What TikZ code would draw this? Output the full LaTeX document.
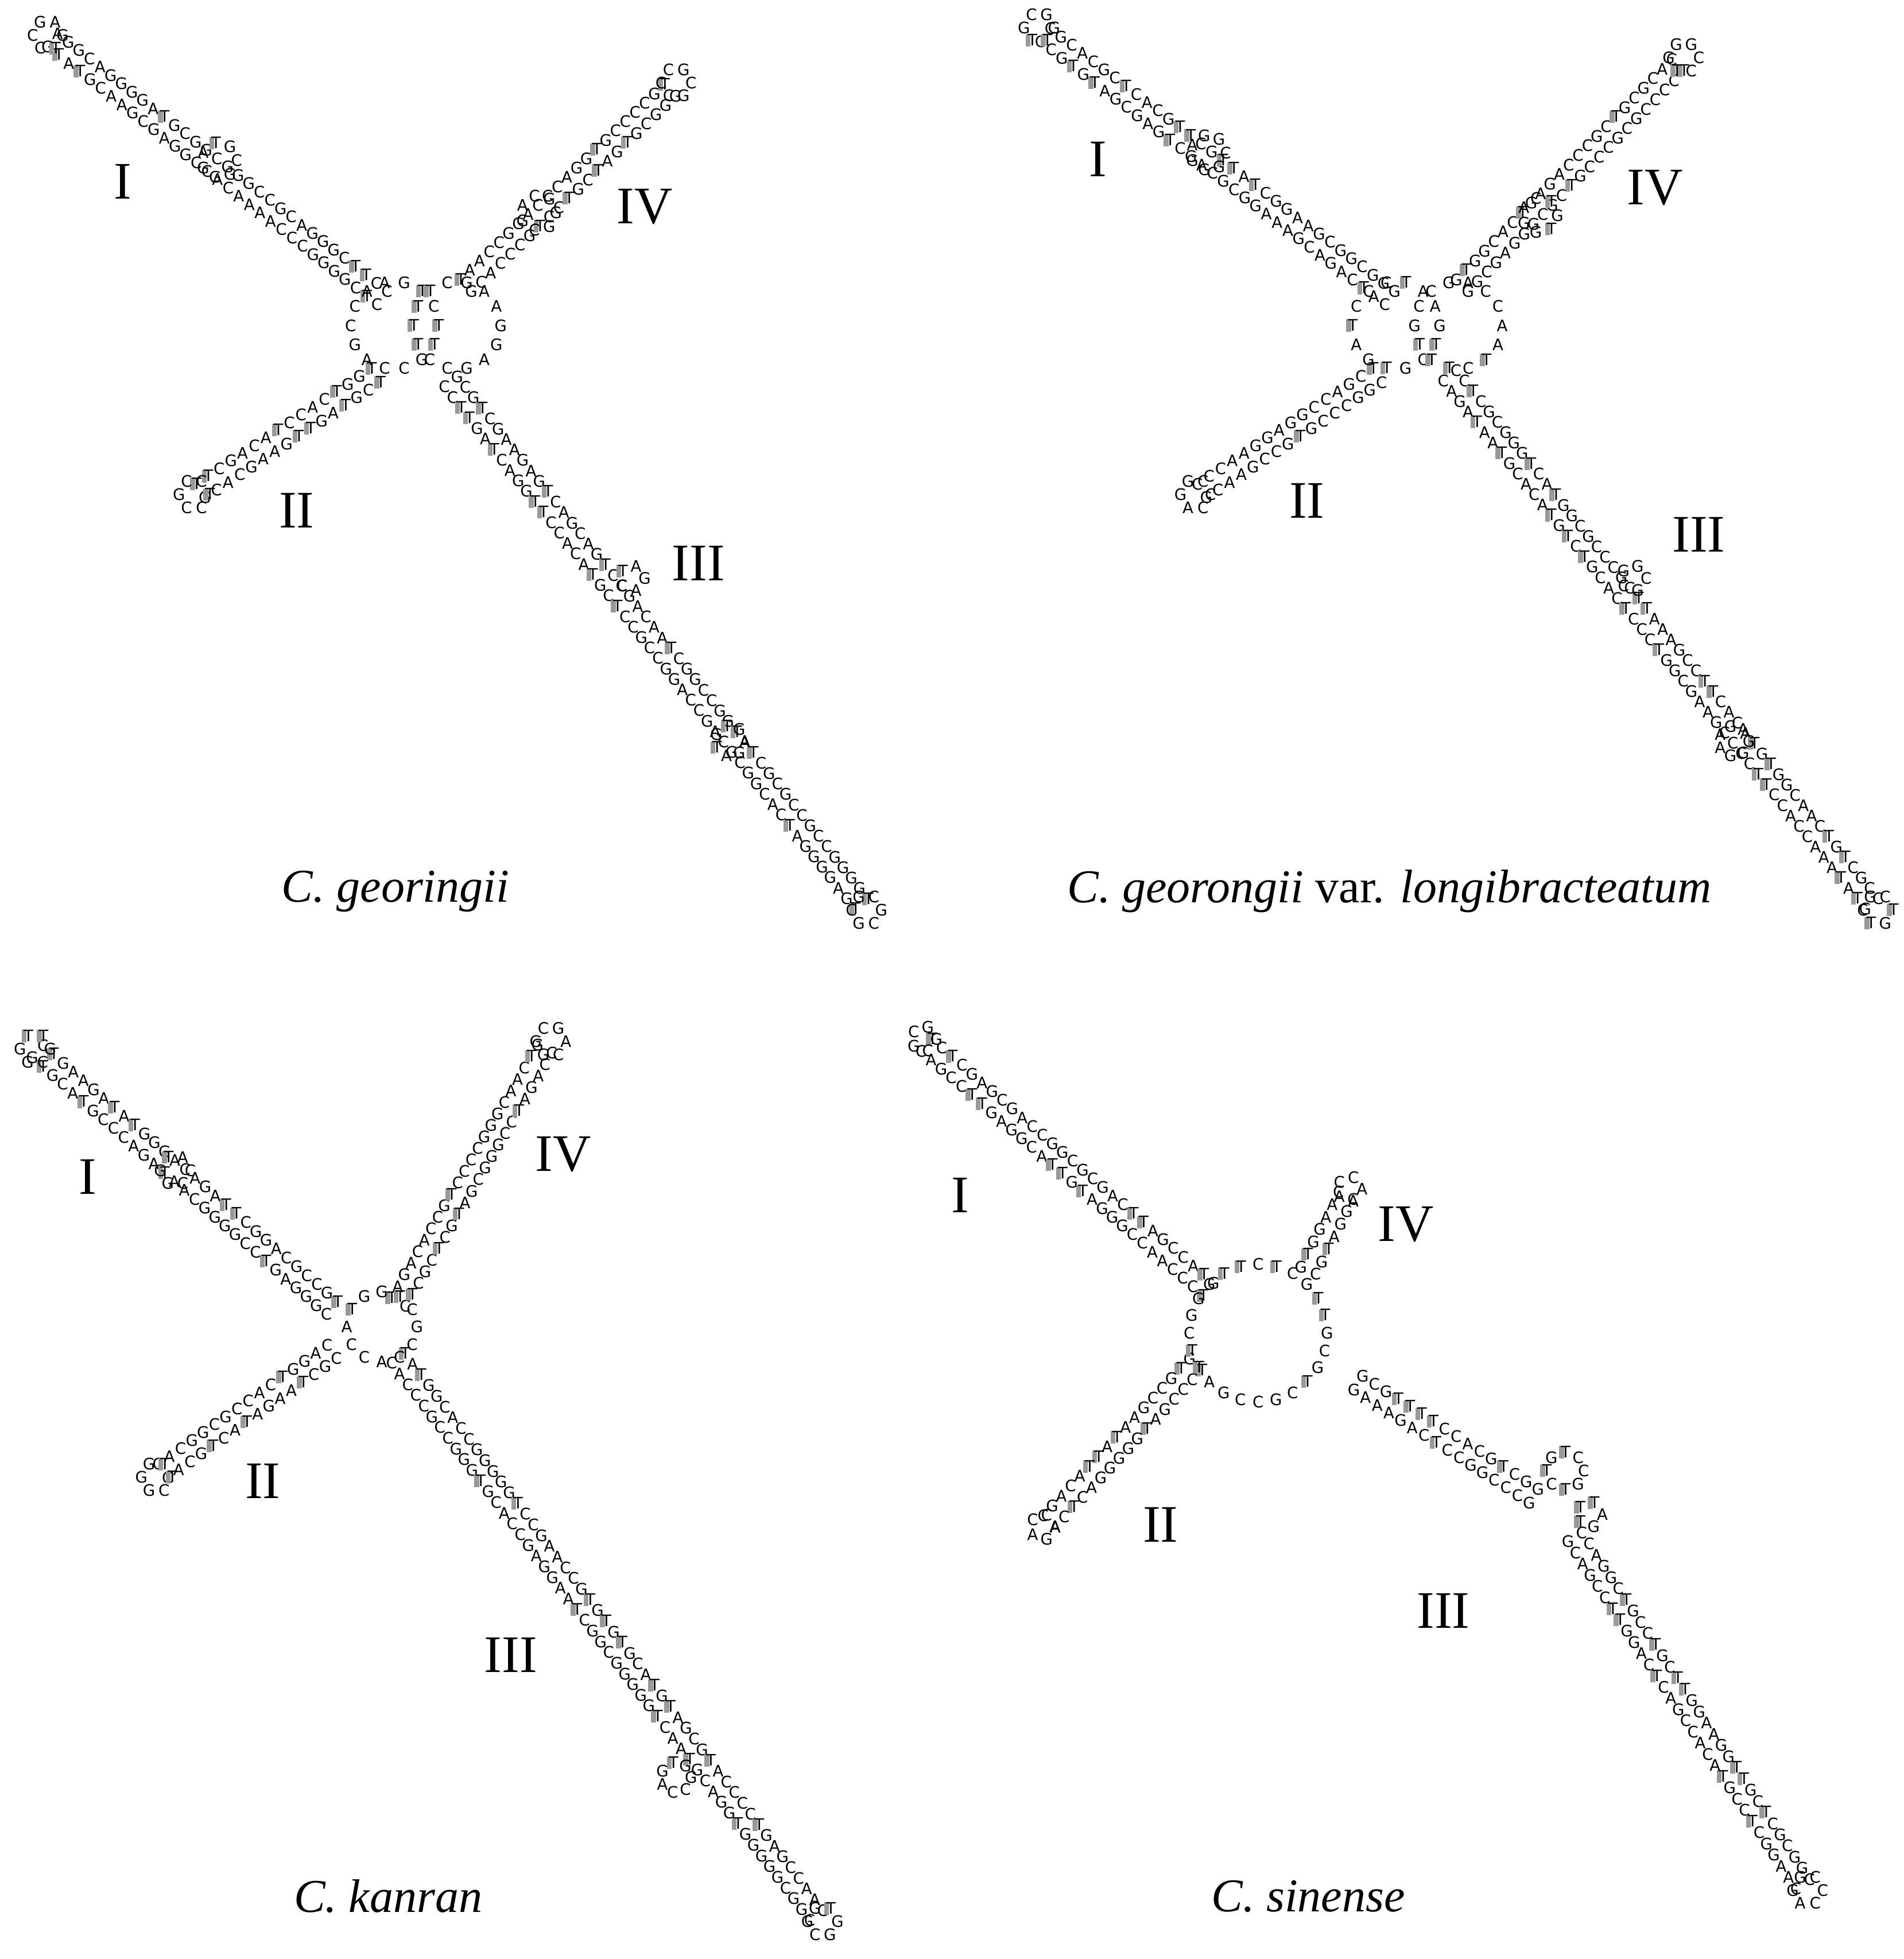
\documentclass[tikz,border=0pt]{standalone}
\usepackage{fontspec}
\setmainfont{Liberation Serif}
\setsansfont{DejaVu Sans}
\pgfmathsetseed{7}
\pgfmathdeclarerandomlist{nt}{{A}{C}{G}{G}{C}{\tg}}
\newcommand\tg{{\color{black!40}\rule[-0.2pt]{1.1pt}{2.8pt}}\kern-0.7pt T}
\tikzset{
 nt/.style={inner sep=0pt,font=\fontsize{3.6}{4}\sffamily},
 lab/.style={font=\fontsize{12}{14}\selectfont},
 ttl/.style={font=\fontsize{10.7}{12}\selectfont}
}
\newcommand\stemx[4]{%
 \pgfmathsetmacro\ddx{#3-#1}\pgfmathsetmacro\ddy{#4-#2}
 \pgfmathsetmacro\LL{veclen(\ddx,\ddy)}
 \pgfmathtruncatemacro\nn{\LL/10.5}
 \pgfmathsetmacro\px{-\ddy/\LL*6.5}\pgfmathsetmacro\py{\ddx/\LL*6.5}
 \foreach \i in {0,...,\nn}{
  \pgfmathsetmacro\tt{\i/\nn}
  \pgfmathrandomitem\aa{nt}\pgfmathrandomitem\bb{nt}
  \node[nt] at ({#1+\tt*\ddx+\px},{#2+\tt*\ddy+\py}) {\aa};
  \node[nt] at ({#1+\tt*\ddx-\px},{#2+\tt*\ddy-\py}) {\bb};
 }}
\newcommand\loopx[4]{% cx cy r n
 \foreach \i in {1,...,#4}{
  \pgfmathrandomitem\aa{nt}
  \node[nt] at ({#1+#3*cos(360*\i/#4)},{#2+#3*sin(360*\i/#4)}) {\aa};
 }}
\begin{document}
\begin{tikzpicture}[x=0.1mm,y=-0.1mm]
\useasboundingbox (0,0) rectangle (1521,1565);
% ---- C. georingii
\stemx{42}{32}{305}{238}
\loopx{38}{28}{12}{6}
\loopx{175}{128}{14}{7}
\stemx{372}{228}{535}{72}
\loopx{540}{66}{12}{6}
\loopx{430}{170}{14}{7}
\stemx{300}{300}{160}{392}
\loopx{155}{395}{12}{6}
\stemx{360}{305}{688}{722}
\loopx{692}{727}{12}{6}
\loopx{505}{462}{10}{5}
\loopx{583}{592}{12}{7}
\loopx{315}{260}{35}{14}
\loopx{365}{260}{35}{14}
\node[lab] (l1a) at (98,145) {I};
\node[lab] (l1b) at (515,165) {IV};
\node[lab] (l1c) at (237,408) {II};
\node[lab] (l1d) at (558,450) {III};
\node[ttl] (t1) at (316,712) {\itshape C. georingii};
% ---- C. georongii var.
\stemx{835}{28}{1110}{238}
\loopx{830}{22}{12}{6}
\loopx{965}{122}{14}{7}
\stemx{1168}{228}{1340}{52}
\loopx{1345}{46}{12}{6}
\loopx{1230}{172}{14}{7}
\stemx{1100}{300}{960}{392}
\loopx{955}{395}{12}{6}
\stemx{1158}{300}{1495}{722}
\loopx{1500}{727}{12}{6}
\loopx{1305}{462}{10}{5}
\loopx{1385}{592}{12}{7}
\loopx{1115}{260}{35}{14}
\loopx{1165}{260}{35}{14}
\node[lab] (l2a) at (877,127) {I};
\node[lab] (l2b) at (1322,150) {IV};
\node[lab] (l2c) at (1044,400) {II};
\node[lab] (l2d) at (1357,427) {III};
\node[ttl] (t2) at (1110,712) {\itshape C. georongii \upshape var. \itshape longibracteatum};
% ---- C. kanran
\stemx{30}{840}{265}{1045}
\loopx{28}{838}{12}{6}
\loopx{140}{935}{12}{6}
\stemx{318}{1040}{435}{838}
\loopx{440}{832}{12}{6}
\stemx{265}{1080}{130}{1175}
\loopx{125}{1180}{12}{6}
\stemx{318}{1085}{652}{1530}
\loopx{657}{1535}{12}{6}
\loopx{540}{1420}{12}{7}
\loopx{305}{1060}{28}{12}
\node[lab] (l3a) at (70,940) {I};
\node[lab] (l3b) at (450,922) {IV};
\node[lab] (l3c) at (210,1183) {II};
\node[lab] (l3d) at (408,1322) {III};
\node[ttl] (t3) at (310,1515) {\itshape C. kanran};
% ---- C. sinense
\stemx{740}{835}{965}{1030}
\loopx{738}{830}{10}{5}
\stemx{1045}{1015}{1075}{955}
\loopx{1078}{950}{10}{5}
\stemx{955}{1090}{838}{1215}
\loopx{833}{1220}{10}{5}
\stemx{1085}{1105}{1225}{1195}
\loopx{1250}{1175}{15}{8}
\stemx{1258}{1228}{1440}{1505}
\loopx{1270}{1210}{10}{5}
\loopx{1444}{1510}{12}{6}
\loopx{1005}{1065}{55}{24}
\node[lab] (l4a) at (767,955) {I};
\node[lab] (l4b) at (1123,978) {IV};
\node[lab] (l4c) at (927,1218) {II};
\node[lab] (l4d) at (1153,1287) {III};
\node[ttl] (t4) at (1045,1515) {\itshape C. sinense};
\end{tikzpicture}
\end{document}
